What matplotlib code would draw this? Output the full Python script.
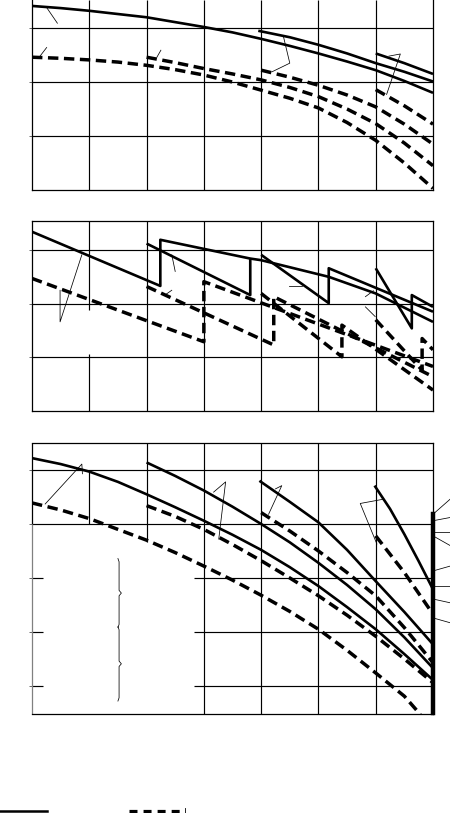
import numpy as np
import matplotlib.pyplot as plt
from matplotlib.lines import Line2D

# x in grid columns (0..7), y in grid rows of each panel

# ---- panel 1 (top): smooth curves ----
p1_sol_a_x = [0, 0.5, 1, 1.5, 2, 2.5, 3, 3.5, 4, 4.5, 5, 5.5, 6, 6.5, 7]
p1_sol_a_y = [3.41, 3.37, 3.32, 3.26, 3.20, 3.11, 3.02, 2.92, 2.80, 2.67, 2.53, 2.38, 2.22, 2.02, 1.80]
p1_sol_b_x = [3.95, 4.5, 5, 5.5, 6, 6.5, 7]
p1_sol_b_y = [2.95, 2.83, 2.69, 2.53, 2.35, 2.19, 2.01]
p1_sol_c_x = [6.0, 6.5, 7]
p1_sol_c_y = [2.53, 2.35, 2.15]
p1_dash_d_x = [0, 0.5, 1, 1.5, 2, 2.5, 3, 3.5, 4, 4.5, 5, 5.5, 6, 6.5, 7]
p1_dash_d_y = [2.46, 2.44, 2.41, 2.37, 2.31, 2.23, 2.13, 2.00, 1.85, 1.70, 1.52, 1.25, 0.92, 0.50, 0.03]
p1_dash_e_x = [2, 2.5, 3, 3.5, 4, 4.5, 5, 5.5, 6, 6.5, 7]
p1_dash_e_y = [2.46, 2.36, 2.25, 2.15, 2.04, 1.90, 1.73, 1.50, 1.23, 0.87, 0.45]
p1_dash_f_x = [4, 4.5, 5, 5.5, 6, 6.5, 7]
p1_dash_f_y = [2.22, 2.09, 1.94, 1.76, 1.54, 1.22, 0.85]
p1_dash_g_x = [6, 6.5, 7]
p1_dash_g_y = [1.86, 1.56, 1.22]

# ---- panel 2 (middle): sawtooth curves ----
p2_sol_0_x = [0, 2.24, 2.24, 3.81, 4.0, 5.18, 6.0, 7.0]
p2_sol_0_y = [3.34, 2.33, 3.19, 2.84, 2.81, 2.50, 2.19, 1.66]
p2_sol_2_x = [2.0, 3.81, 3.81]
p2_sol_2_y = [3.12, 2.16, 2.84]
p2_sol_4_x = [4.0, 5.18, 5.18, 7.0]
p2_sol_4_y = [2.91, 2.01, 2.66, 1.85]
p2_sol_6_x = [6.0, 6.63, 6.63, 7.0]
p2_sol_6_y = [2.66, 1.54, 2.16, 1.94]
p2_dash_0_x = [0, 3.0, 3.0, 7.0]
p2_dash_0_y = [2.47, 1.29, 2.41, 0.83]
p2_dash_2_x = [2.0, 4.22, 4.22, 7.0]
p2_dash_2_y = [2.32, 1.23, 2.13, 0.64]
p2_dash_4_x = [4.0, 5.41, 5.41, 7.0]
p2_dash_4_y = [2.19, 1.01, 1.60, 0.39]
p2_dash_6_x = [6.0, 6.81, 6.81, 7.0]
p2_dash_6_y = [1.70, 0.76, 1.35, 1.14]

# ---- panel 3 (bottom): steep curves ----
p3_sol_0_x = [0, 0.5, 1, 1.5, 2, 2.5, 3, 3.5, 4, 4.5, 5, 5.5, 6, 6.5, 7]
p3_sol_0_y = [4.22, 4.11, 3.97, 3.78, 3.55, 3.31, 3.06, 2.80, 2.52, 2.20, 1.85, 1.46, 1.05, 0.59, 0.11]
p3_sol_2_x = [2, 2.5, 3, 3.5, 4, 4.5, 5, 5.5, 6, 6.5, 7]
p3_sol_2_y = [4.14, 3.89, 3.62, 3.32, 3.00, 2.66, 2.28, 1.87, 1.42, 0.90, 0.33]
p3_sol_4_x = [3.97, 4.5, 5, 5.5, 6, 6.5, 7]
p3_sol_4_y = [3.80, 3.41, 3.03, 2.52, 1.94, 1.37, 0.77]
p3_sol_6_x = [5.98, 6.25, 6.5, 6.75, 7]
p3_sol_6_y = [3.71, 3.28, 2.81, 2.31, 1.79]
p3_dash_0_x = [0, 0.5, 1, 1.5, 2, 2.5, 3, 3.5, 4, 4.5, 5, 5.5, 6, 6.5, 6.78]
p3_dash_0_y = [3.39, 3.26, 3.10, 2.90, 2.70, 2.47, 2.22, 1.96, 1.68, 1.38, 1.05, 0.66, 0.24, -0.19, -0.53]
p3_dash_2_x = [2, 2.5, 3, 3.5, 4, 4.5, 5, 5.5, 6, 6.5, 7]
p3_dash_2_y = [3.34, 3.14, 2.90, 2.62, 2.32, 2.00, 1.67, 1.31, 0.92, 0.50, 0.06]
p3_dash_4_x = [4, 4.5, 5, 5.5, 6, 6.5, 7]
p3_dash_4_y = [3.21, 2.87, 2.50, 2.10, 1.67, 1.08, 0.43]
p3_dash_6_x = [6, 6.5, 7]
p3_dash_6_y = [2.78, 2.10, 1.33]
p3_bar_x = [7, 7]
p3_bar_y = [3.18, -0.51]

# leader lines (label text not kept in the source)
p1_leaders = [
    ([0.256, 0.443], [3.38, 3.09]),
    ([0.14, 0.256], [2.48, 2.64]),
    ([2.18, 2.25], [2.46, 2.59]),
    ([4.39, 4.50, 4.19], [2.84, 2.35, 2.19]),
    ([6.23, 6.43, 6.19], [2.48, 2.52, 1.77]),
]
p2_leaders = [
    ([0.49, 0.49, 0.87], [2.25, 1.66, 2.91]),
    ([2.44, 2.50], [2.91, 2.60]),
    ([2.32, 2.44], [2.16, 2.25]),
    ([4.48, 4.71], [2.33, 2.33]),
    ([5.82, 5.96], [2.13, 2.24]),
    ([5.82, 5.99], [1.94, 1.76]),
]
p3_leaders = [
    ([0.23, 0.87, 0.88], [3.37, 4.11, 3.93]),
    ([3.17, 3.38, 3.26], [3.59, 3.78, 2.72]),
    ([4.13, 4.36, 4.25], [3.18, 3.71, 3.65]),
    ([6.14, 5.73, 6.02], [3.46, 3.38, 2.63]),
]
p3_right_start_y = [3.18, 3.06, 2.86, 2.78, 2.13, 1.86, 1.61, 1.26]
p3_right_end_y = [3.46, 3.12, 2.86, 2.60, 2.22, 1.86, 1.54, 1.17]

SOL = dict(color="black", lw=1.9, solid_capstyle="butt", solid_joinstyle="round")
DSH = dict(color="black", lw=2.5, linestyle=(0, (3.0, 1.6)), dash_capstyle="butt")
THIN = dict(color="black", lw=0.55)
GRID = dict(color="black", lw=0.85)

fig = plt.figure(figsize=(4.5, 8.13), dpi=100)
W, H = 450.0, 813.0


def make_axes(top_px, bottom_px, ylim):
    ax = fig.add_axes([32 / W, 1 - bottom_px / H, 401 / W, (bottom_px - top_px) / H])
    ax.set_xlim(0, 7)
    ax.set_ylim(*ylim)
    ax.set_xticks([])
    ax.set_yticks([])
    for s in ax.spines.values():
        s.set_linewidth(0.9)
    return ax


ax1 = make_axes(0, 190, (0, 3.52))
ax1.spines["top"].set_visible(False)
ax2 = make_axes(221, 411, (0, 3.54))
ax3 = make_axes(443, 714, (-0.52, 4.5))

# grid
for gx in range(1, 7):
    ax1.vlines(gx, 0, 3.52, **GRID)
for gy in range(1, 4):
    ax1.hlines(gy, 0, 7, **GRID)

for gx in range(2, 7):
    ax2.vlines(gx, 0, 3.54, **GRID)
ax2.vlines(1, 0, 1.06, **GRID)
ax2.vlines(1, 1.88, 3.54, **GRID)
for gy in range(1, 4):
    ax2.hlines(gy, 0, 7, **GRID)

ax3.vlines(1, 3, 4, **GRID)
ax3.vlines(2, 2.66, 4.5, **GRID)
for gx in range(3, 7):
    ax3.vlines(gx, -0.52, 4.5, **GRID)
for gy in (3, 4):
    ax3.hlines(gy, 0, 7, **GRID)
for gy in (0, 1, 2):
    ax3.hlines(gy, 0, 0.2, **GRID)
    ax3.hlines(gy, 2.82, 7, **GRID)
ax3.spines["left"].set_visible(False)
ax3.vlines(0, 3, 4.5, color="black", lw=0.9, clip_on=False)
ax3.vlines(0, -0.52, 3, color="0.5", lw=0.9, clip_on=False)

# small ticks at the left of the frames
for ax, ticks in [(ax1, [1, 2, 3]), (ax2, [1, 2, 3]), (ax3, [0, 1, 2, 3, 4])]:
    ax.set_yticks(ticks)
    ax.set_yticklabels([])
    ax.tick_params(axis="y", length=2, width=0.7, color="0.4")

# panel 1
for x, y in [(p1_sol_a_x, p1_sol_a_y), (p1_sol_b_x, p1_sol_b_y), (p1_sol_c_x, p1_sol_c_y)]:
    ax1.plot(x, y, **SOL)
for x, y in [(p1_dash_d_x, p1_dash_d_y), (p1_dash_e_x, p1_dash_e_y),
             (p1_dash_f_x, p1_dash_f_y), (p1_dash_g_x, p1_dash_g_y)]:
    ax1.plot(x, y, **DSH)
for x, y in p1_leaders:
    ax1.plot(x, y, **THIN)

# panel 2
for x, y in [(p2_sol_0_x, p2_sol_0_y), (p2_sol_2_x, p2_sol_2_y),
             (p2_sol_4_x, p2_sol_4_y), (p2_sol_6_x, p2_sol_6_y)]:
    ax2.plot(x, y, **SOL)
for x, y in [(p2_dash_0_x, p2_dash_0_y), (p2_dash_2_x, p2_dash_2_y),
             (p2_dash_4_x, p2_dash_4_y), (p2_dash_6_x, p2_dash_6_y)]:
    ax2.plot(x, y, **DSH)
for x, y in p2_leaders:
    ax2.plot(x, y, **THIN)

# panel 3
for x, y in [(p3_sol_0_x, p3_sol_0_y), (p3_sol_2_x, p3_sol_2_y),
             (p3_sol_4_x, p3_sol_4_y), (p3_sol_6_x, p3_sol_6_y)]:
    ax3.plot(x, y, **SOL)
for x, y in [(p3_dash_0_x, p3_dash_0_y), (p3_dash_2_x, p3_dash_2_y),
             (p3_dash_4_x, p3_dash_4_y), (p3_dash_6_x, p3_dash_6_y)]:
    ax3.plot(x, y, **DSH)
ax3.plot(p3_bar_x, p3_bar_y, color="black", lw=3.2, clip_on=False)
for x, y in p3_leaders:
    ax3.plot(x, y, **THIN)
for y0, y1 in zip(p3_right_start_y, p3_right_end_y):
    ax3.plot([7, 7.3], [y0, y1], clip_on=False, **THIN)

# braces of the (blank) key box
for top, bot in [(2.33, 1.11), (1.07, -0.25)]:
    mid = (top + bot) / 2
    bx = 1.52
    ax3.plot([bx - 0.02, bx, bx, bx + 0.04, bx, bx, bx - 0.02],
             [top + 0.03, top - 0.03, mid + 0.05, mid, mid - 0.05, bot + 0.03, bot - 0.03],
             **THIN)

# legend samples at the bottom edge
yb = 1 - 811 / H
fig.add_artist(Line2D([0, 47 / W], [yb, yb], transform=fig.transFigure, color="black", lw=1.8))
fig.add_artist(Line2D([129 / W, 180 / W], [yb, yb], transform=fig.transFigure,
                      color="black", lw=2.3, linestyle=(0, (2.5, 1.9))))
fig.add_artist(Line2D([185 / W, 185 / W], [yb - 2 / H, yb + 3 / H], transform=fig.transFigure,
                      color="black", lw=0.6))

fig.savefig("out.png", dpi=100)
